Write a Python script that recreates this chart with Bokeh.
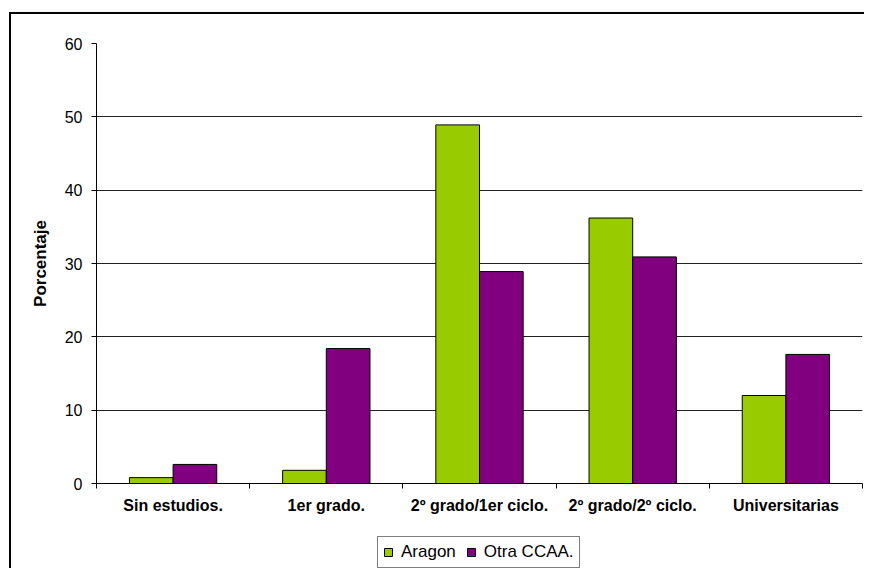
from bokeh.plotting import figure
from bokeh.layouts import column
from bokeh.models import (ColumnDataSource, FixedTicker, Legend, LegendItem, Range1d)
from bokeh.embed import file_html
from bokeh.resources import INLINE

categories = ["Sin estudios.", "1er grado.", "2º grado/1er ciclo.", "2º grado/2º ciclo.", "Universitarias"]
aragon = [0.8, 1.8, 48.9, 36.2, 12.0]
otra = [2.6, 18.4, 28.9, 30.9, 17.6]
series_names = ["Aragon", "Otra CCAA."]
y_ticks = [0, 10, 20, 30, 40, 50, 60]

FONT = "Liberation Sans"
GREEN = "#99CC00"
PURPLE = "#800080"

centers = [i + 0.5 for i in range(len(categories))]
bw = 0.285
src_a = ColumnDataSource(dict(x=[c - bw / 2 for c in centers], top=aragon))
src_o = ColumnDataSource(dict(x=[c + bw / 2 for c in centers], top=otra))

p = figure(frame_width=766, frame_height=440, output_backend="svg", toolbar_location=None,
           x_range=Range1d(0, len(categories)), y_range=Range1d(0, 60),
           min_border_left=85, min_border_top=29, min_border_right=2, min_border_bottom=50)
p.outline_line_color = None
p.background_fill_color = "white"
p.border_fill_color = "white"

p.vbar(x="x", top="top", width=bw, bottom=0, source=src_a,
       fill_color=GREEN, line_color="black", line_width=1)
p.vbar(x="x", top="top", width=bw, bottom=0, source=src_o,
       fill_color=PURPLE, line_color="black", line_width=1)

p.xgrid.visible = False
p.ygrid.ticker = FixedTicker(ticks=y_ticks)
p.ygrid.grid_line_color = "#222222"
p.ygrid.grid_line_width = 1

ya = p.yaxis[0]
ya.ticker = FixedTicker(ticks=y_ticks)
ya.axis_line_color = "black"
ya.major_tick_line_color = "black"
ya.major_tick_out = 5
ya.major_tick_in = 0
ya.minor_tick_line_color = None
ya.major_label_text_font = FONT
ya.major_label_text_font_size = "16px"
ya.major_label_text_color = "black"
ya.major_label_standoff = 9
ya.axis_label = "Porcentaje"
ya.axis_label_text_font = FONT
ya.axis_label_text_font_style = "bold"
ya.axis_label_text_font_size = "17px"
ya.axis_label_text_color = "black"
ya.axis_label_standoff = 12

xa = p.xaxis[0]
xa.ticker = FixedTicker(ticks=centers, minor_ticks=list(range(len(categories) + 1)))
xa.major_label_overrides = {c: name for c, name in zip(centers, categories)}
xa.major_tick_line_color = None
xa.minor_tick_line_color = "black"
xa.minor_tick_out = 5
xa.minor_tick_in = 0
xa.axis_line_color = "black"
xa.major_label_text_font = FONT
xa.major_label_text_font_style = "bold"
xa.major_label_text_font_size = "16px"
xa.major_label_text_color = "black"
xa.major_label_standoff = 7

# legend strip below the chart (its own small figure; glyphs lie outside its range)
p2 = figure(width=853, height=40, output_backend="svg", toolbar_location=None,
            x_range=Range1d(0, 1), y_range=Range1d(0, 1),
            x_axis_type=None, y_axis_type=None,
            min_border_left=0, min_border_right=0, min_border_top=0, min_border_bottom=0)
p2.outline_line_color = None
p2.grid.visible = False
p2.border_fill_color = "white"
la = p2.vbar(x=[-5], top=[-5], bottom=-6, width=1, fill_color=GREEN, line_color="black")
lo = p2.vbar(x=[-5], top=[-5], bottom=-6, width=1, fill_color=PURPLE, line_color="black")

legend = Legend(items=[LegendItem(label=series_names[0], renderers=[la]),
                       LegendItem(label=series_names[1], renderers=[lo])],
                orientation="horizontal", location=(281, 5))
legend.label_text_font = FONT
legend.label_text_font_size = "17px"
legend.label_text_color = "black"
legend.glyph_width = 10
legend.glyph_height = 10
legend.label_standoff = 8
legend.spacing = 10
legend.padding = 5
legend.margin = 0
legend.border_line_color = "black"
legend.border_line_width = 1
legend.background_fill_alpha = 1
p2.add_layout(legend, "center")

layout = column(p, p2, spacing=0)
layout.styles = {"margin-left": "9px", "margin-top": "12px",
                 "border-left": "2px solid black", "border-top": "2px solid black"}

open("out.html", "w").write(file_html(layout, INLINE))
